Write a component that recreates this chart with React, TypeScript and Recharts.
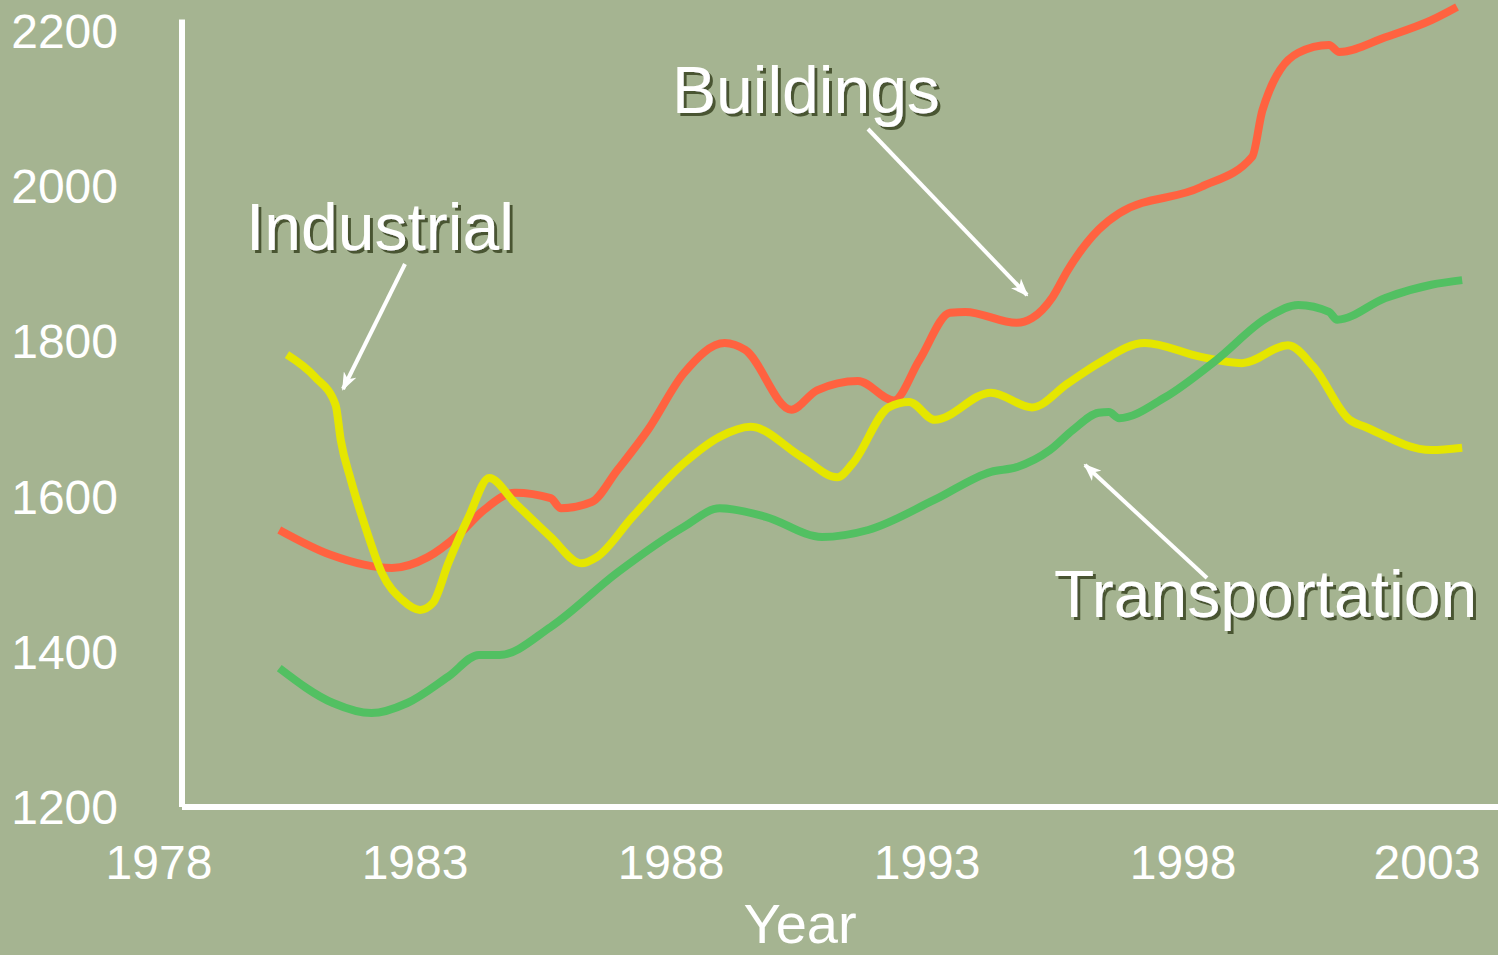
import React from "react";
import { LineChart, Line, XAxis, YAxis, ReferenceLine } from "recharts";

// values (year, energy use)
const buildingsYears = [1979.9, 1980.9, 1982.1, 1982.8, 1983.4, 1983.9, 1984.5, 1985.2, 1985.4, 1986.0, 1986.5, 1987.1, 1987.8, 1988.6, 1989.0, 1989.9, 1990.4, 1991.2, 1991.9, 1992.4, 1993.0, 1993.3, 1994.3, 1994.6, 1995.0, 1995.3, 1995.9, 1996.3, 1997.9, 1998.9, 1999.1, 1999.8, 2000.4, 2000.6, 2001.5, 2002.4, 2002.9];
const buildingsValues = [1557, 1525, 1508, 1522, 1551, 1583, 1605, 1598, 1585, 1593, 1634, 1686, 1759, 1798, 1789, 1712, 1737, 1749, 1724, 1776, 1837, 1838, 1824, 1830, 1857, 1892, 1944, 1965, 1999, 2038, 2098, 2172, 2182, 2173, 2192, 2214, 2231];

const industrialYears = [1980.05, 1980.6, 1981.0, 1981.1, 1981.3, 1981.6, 1981.9, 1982.3, 1982.65, 1982.9, 1983.2, 1983.6, 1984.0, 1984.5, 1985.2, 1985.8, 1986.1, 1986.8, 1987.8, 1988.5, 1989.1, 1990.1, 1990.8, 1991.1, 1991.8, 1992.2, 1992.7, 1993.8, 1994.6, 1995.3, 1995.9, 1996.8, 1997.9, 1998.7, 1999.6, 2000.1, 2000.8, 2001.1, 2002.4, 2003.0];
const industrialValues = [1783, 1754, 1718, 1673, 1621, 1557, 1502, 1467, 1454, 1463, 1514, 1574, 1624, 1592, 1548, 1514, 1522, 1574, 1643, 1677, 1690, 1651, 1625, 1643, 1715, 1722, 1699, 1734, 1715, 1746, 1772, 1798, 1780, 1772, 1795, 1767, 1699, 1690, 1660, 1663];

const transportYears = [1979.9, 1980.95, 1981.7, 1982.4, 1983.2, 1983.8, 1984.2, 1985.2, 1986.5, 1987.8, 1988.5, 1989.4, 1990.5, 1991.4, 1992.7, 1993.8, 1994.3, 1994.95, 1995.4, 1995.9, 1996.1, 1996.3, 1997.2, 1998.2, 1999.2, 1999.8, 2000.4, 2000.56, 2001.5, 2002.4, 2003.0];
const transportValues = [1379, 1334, 1321, 1334, 1368, 1396, 1396, 1432, 1502, 1561, 1585, 1574, 1548, 1557, 1596, 1632, 1638, 1660, 1686, 1708, 1709, 1701, 1728, 1776, 1831, 1847, 1838, 1828, 1856, 1873, 1879];

const xTicks = [1978, 1983, 1988, 1993, 1998, 2003];
const yTicks = [1200, 1400, 1600, 1800, 2000, 2200];

const toPoints = (years: number[], values: number[]) =>
  years.map((year, i) => ({ year, value: values[i] }));

const FONT = "'Liberation Sans', Arial, sans-serif";
const BG = "#A5B491";

const Annotations = () => (
  <svg
    width={1498}
    height={955}
    style={{ position: "absolute", left: 0, top: 0, pointerEvents: "none" }}
  >
    <defs>
      <marker id="head" markerWidth="18" markerHeight="14" refX="16" refY="7" orient="auto" markerUnits="userSpaceOnUse">
        <path d="M0,0 L18,7 L0,14 L5,7 z" fill="#fff" />
      </marker>
      <filter id="shadow" x="-5%" y="-20%" width="110%" height="140%">
        <feDropShadow dx="3" dy="3" stdDeviation="0.3" floodColor="#4A5530" floodOpacity="1" />
      </filter>
    </defs>
    <line x1={405} y1={264} x2={343} y2={389} stroke="#fff" strokeWidth={4} markerEnd="url(#head)" />
    <line x1={868} y1={129} x2={1027} y2={295} stroke="#fff" strokeWidth={4} markerEnd="url(#head)" />
    <line x1={1207} y1={578} x2={1085} y2={465} stroke="#fff" strokeWidth={4} markerEnd="url(#head)" />
    <g fill="#fff" fontFamily={FONT} fontSize={66} filter="url(#shadow)">
      <text x={246} y={250}>Industrial</text>
      <text x={672} y={113}>Buildings</text>
      <text x={1054} y={617}>Transportation</text>
    </g>
  </svg>
);

const App: React.FC = () => {
  return (
    <div style={{ position: "absolute", left: 0, top: 0, width: 1498, height: 955, background: BG, fontFamily: FONT }}>
      <LineChart width={1498} height={955} margin={{ top: 0, right: 0, left: 0, bottom: 48 }}>
        <XAxis
          dataKey="year"
          type="number"
          domain={[1978, 2003.7]}
          allowDataOverflow
          ticks={xTicks}
          axisLine={{ stroke: "#fff", strokeWidth: 6 }}
          tickLine={false}
          tickSize={0}
          tickMargin={38}
          height={100}
          tick={{ fill: "#fff", fontSize: 48, fontFamily: FONT, dx: -23 }}
          label={{ value: "Year", position: "bottom", offset: -4, dx: -40, fill: "#fff", fontSize: 56, fontFamily: FONT }}
        />
        <YAxis
          type="number"
          domain={[1200, 2240]}
          allowDataOverflow
          ticks={yTicks}
          width={182}
          axisLine={false}
          tickLine={false}
          tickSize={0}
          tickMargin={64}
          tick={{ fill: "#fff", fontSize: 48, fontFamily: FONT }}
        />
        <ReferenceLine
          segment={[{ x: 1978, y: 1200 }, { x: 1978, y: 2215 }]}
          stroke="#fff"
          strokeWidth={6}
        />
        <Line data={toPoints(buildingsYears, buildingsValues)} dataKey="value" type="monotone" stroke="#FF6240" strokeWidth={8} dot={false} isAnimationActive={false} />
        <Line data={toPoints(industrialYears, industrialValues)} dataKey="value" type="monotone" stroke="#E5E600" strokeWidth={8} dot={false} isAnimationActive={false} />
        <Line data={toPoints(transportYears, transportValues)} dataKey="value" type="monotone" stroke="#52C062" strokeWidth={8} dot={false} isAnimationActive={false} />
      </LineChart>
      <Annotations />
    </div>
  );
};

export default App;
